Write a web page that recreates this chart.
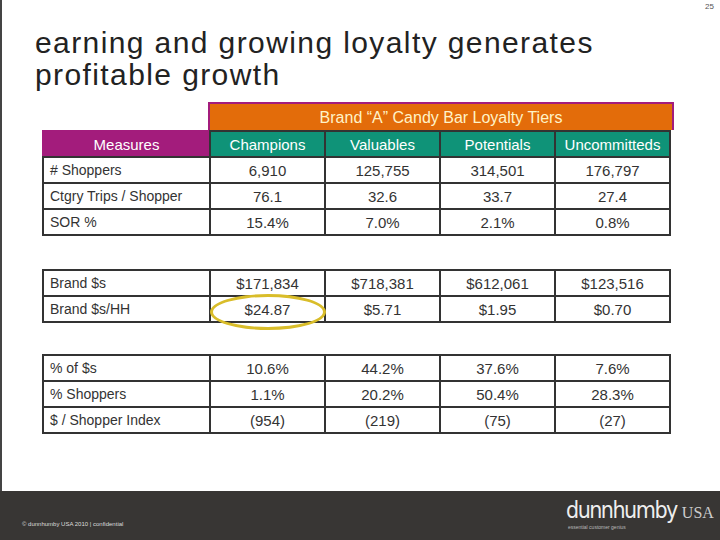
<!DOCTYPE html><html><head><meta charset="utf-8">
<script src="https://cdn.jsdelivr.net/npm/chart.js@4"></script>
<style>
body{margin:0;width:720px;height:540px;position:relative;font-family:"Liberation Sans",Arial,sans-serif;background:#fff;overflow:hidden}
#lb{position:absolute;left:0;top:0;width:2px;height:491px;background:#444}
#pg{position:absolute;right:6px;top:2px;font-size:8px;color:#555}
h1{position:absolute;left:35px;top:27px;margin:0;font-weight:normal;font-size:30px;line-height:32px;color:#222;letter-spacing:1.4px}
#foot{position:absolute;left:0;top:491px;width:720px;height:49px;background:#383634;color:#ddd}
#copy{position:absolute;left:22px;top:30px;font-size:6px}
#logo{position:absolute;left:566px;top:6px;font-size:23px;color:#eee;letter-spacing:-1.5px;white-space:nowrap;font-family:"Liberation Sans Narrow","DejaVu Sans Condensed",sans-serif}
#logo span{font-family:"Liberation Serif",serif;font-size:16px;letter-spacing:0;color:#ccc}
#tag{position:absolute;left:568px;top:33px;font-size:5px;color:#bbb;white-space:nowrap}
table{position:absolute;left:42px;border-collapse:collapse;font-size:15px;color:#333;table-layout:fixed}
td{border:2px solid #333;height:24px;padding:0 6px;text-align:center;white-space:nowrap}
td.m{text-align:left;font-size:14px;padding-left:6px}
#hdr{position:absolute;left:208px;top:102px;width:462px;height:26px;background:#e36c0a;border:2px solid #a31c7c;border-bottom:none;color:#fff3c8;font-size:16px;text-align:center;line-height:27px}
.ell{position:absolute;border:3px solid #d9bd2a;border-radius:50%;width:110px;height:30px}
</style></head><body>
<div id="lb"></div><div id="pg">25</div>
<h1>earning and growing loyalty generates<br>profitable growth</h1>
<div id="hdr">Brand “A” Candy Bar Loyalty Tiers</div>
<div id="tables"></div>
<div class="ell" style="left:210px;top:294px"></div>
<div id="foot"><div id="copy">© dunnhumby USA 2010 | confidential</div><div id="logo">dunnhumby <span>USA</span></div><div id="tag">essential customer genius</div></div>
<canvas id="c" width="1" height="1" style="display:none"></canvas>
<script>
const tiers=["Champions","Valuables","Potentials","Uncommitteds"];
const group1Labels=["# Shoppers","Ctgry Trips / Shopper","SOR %"];
const group1Values=[["6,910","125,755","314,501","176,797"],["76.1","32.6","33.7","27.4"],["15.4%","7.0%","2.1%","0.8%"]];
const group2Labels=["Brand $s","Brand $s/HH"];
const group2Values=[["$171,834","$718,381","$612,061","$123,516"],["$24.87","$5.71","$1.95","$0.70"]];
const group3Labels=["% of $s","% Shoppers","$ / Shopper Index"];
const group3Values=[["10.6%","44.2%","37.6%","7.6%"],["1.1%","20.2%","50.4%","28.3%"],["(954)","(219)","(75)","(27)"]];
const cols='<colgroup><col style="width:167px"><col style="width:115px"><col style="width:115px"><col style="width:115px"><col style="width:115px"></colgroup>';
function tbl(top,labels,vals,head){
  let h='<table style="top:'+top+'px">'+cols;
  if(head){h+='<tr><td style="background:#a31c7c;color:#fff;border-color:#a31c7c #333 #333 #a31c7c">Measures</td>'+tiers.map(t=>'<td style="background:#0f9378;color:#fff">'+t+'</td>').join('')+'</tr>';}
  labels.forEach((l,i)=>{h+='<tr><td class="m">'+l+'</td>'+vals[i].map(v=>'<td>'+v+'</td>').join('')+'</tr>';});
  return h+'</table>';
}
document.getElementById('tables').innerHTML=tbl(130,group1Labels,group1Values,true)+tbl(269,group2Labels,group2Values,false)+tbl(354,group3Labels,group3Values,false);
</script></body></html>
